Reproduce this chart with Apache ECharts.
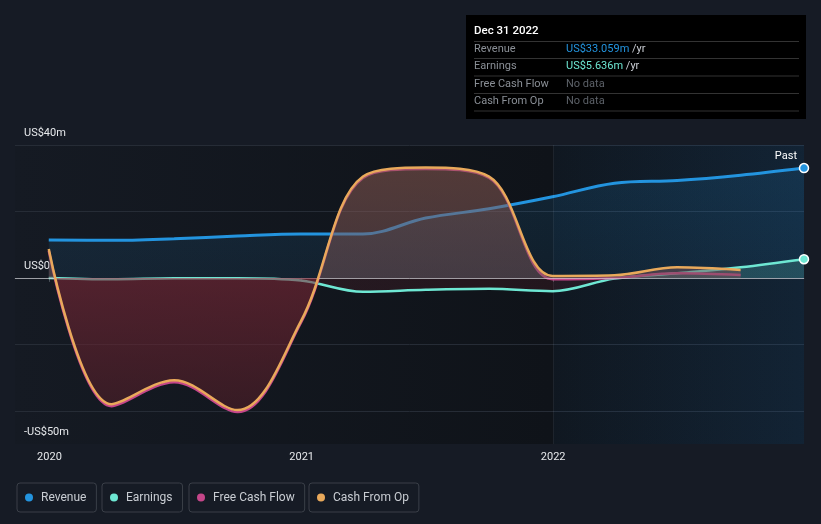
<!DOCTYPE html>
<html>
<head>
<meta charset="utf-8">
<style>
html,body{margin:0;padding:0;background:#161b25;}
#chart{width:821px;height:524px;}
</style>
<script src="https://cdn.jsdelivr.net/npm/echarts@6/dist/echarts.min.js"></script>
</head>
<body>
<div id="chart"></div>
<script>
// ---- data (US$ millions, trailing twelve months) ----
const dates = ['2019-12-31','2020-03-31','2020-06-30','2020-09-30','2020-12-31','2021-03-31','2021-06-30','2021-09-30','2021-12-31','2022-03-31','2022-06-30','2022-09-30','2022-12-31'];
const revenue  = [11.4, 11.3, 11.8, 12.6, 13.2, 13.2, 18.0, 20.8, 24.4, 28.5, 29.3, 30.9, 33.059];
const earnings = [0.0, -0.4, -0.1, -0.1, -0.8, -4.2, -3.6, -3.3, -4.0, -0.2, 1.4, 3.2, 5.636];
const freeCashFlow = [8.2, -38.6, -31.4, -40.4, -13.5, 30.1, 32.8, 30.1, -0.4, 0.0, 1.4, 0.9];
const cashFromOp   = [8.7, -38.0, -30.8, -39.8, -13.0, 30.5, 33.2, 30.5, 0.6, 0.8, 3.2, 2.4];
const yTickLabels = {40: 'US$40m', 0: 'US$0', '-50': '-US$50m'};
const tooltipTitle = 'Dec 31 2022';

const C = {rev:'#2394df', earn:'#6ee7d3', fcf:'#c5468a', cfo:'#e9a95b'};
const FONT = 'Roboto';
const SMOOTH = 0.35;

function pairs(vals){ return vals.map((v,i)=>[dates[i], v]); }
const lastIdx = dates.length - 1;

const GT = 145, GB = 444; // grid top/bottom pixels
const zeroOff = 40/90;

const chart = echarts.init(document.getElementById('chart'), null, {renderer:'canvas'});

function legend(name, left){
  return {
    data:[name], left:left, top:483, orient:'horizontal',
    icon:'circle', itemWidth:14, itemHeight:8,
    itemStyle:{borderWidth:0},
    padding:[8,10,8,8],
    borderColor:'#3a3f48', borderWidth:1, borderRadius:3,
    textStyle:{color:'#c9cdd3', fontSize:12, fontFamily:FONT, lineHeight:13},
    selectedMode:false
  };
}

const txt = (x, y, text, fill, extra) => Object.assign({
  type:'text', x:x, y:y, z:101,
  style:{text:text, fill:fill, font:'11px '+FONT, textVerticalAlign:'middle', textAlign:'left'}
}, extra || {});

const sepYs = [41.5, 58.5, 76, 93.5, 111];
const rich = (col) => ({v:{fill:col, font:'11px '+FONT}, u:{fill:'#c9cdd3', font:'11px '+FONT}});

const graphics = [
  {type:'rect', x:466, y:15, z:100, shape:{width:340, height:104}, style:{fill:'#000000'}},
  {type:'text', x:474, y:31, z:101, style:{text:tooltipTitle, fill:'#ffffff', font:'500 11.5px '+FONT, textVerticalAlign:'middle'}},
  ...sepYs.map(y=>({type:'line', z:101, shape:{x1:474, y1:y, x2:799, y2:y}, style:{stroke:'#333333', lineWidth:1}})),
  txt(474, 49.5, 'Revenue', '#8a8f96'),
  {type:'text', x:566, y:49.5, z:101, style:{text:'{v|US$' + revenue[lastIdx].toFixed(3) + 'm} {u|/yr}', rich:rich(C.rev), font:'11px '+FONT, textVerticalAlign:'middle'}},
  txt(474, 66.5, 'Earnings', '#8a8f96'),
  {type:'text', x:566, y:66.5, z:101, style:{text:'{v|US$' + earnings[lastIdx].toFixed(3) + 'm} {u|/yr}', rich:rich(C.earn), font:'11px '+FONT, textVerticalAlign:'middle'}},
  txt(474, 84.5, 'Free Cash Flow', '#8a8f96'),
  txt(566, 84.5, 'No data', '#5c6168'),
  txt(474, 101.5, 'Cash From Op', '#8a8f96'),
  txt(566, 101.5, 'No data', '#5c6168'),
  {type:'text', x:797, y:156, z:50, style:{text:'Past', fill:'#ffffff', font:'11px '+FONT, textAlign:'right', textVerticalAlign:'middle'}}
];

const option = {
  backgroundColor:'#161b25',
  animation:false,
  textStyle:{fontFamily:FONT},
  grid:{left:15, right:17, top:GT, bottom:524-GB, show:true, borderWidth:0,
    backgroundColor:{type:'linear', x:0, y:0, x2:1, y2:0, colorStops:[
      {offset:0, color:'#151a23'}, {offset:0.68, color:'#0f1319'}, {offset:1, color:'#10151c'}]}},
  legend:[legend('Revenue',17), legend('Earnings',102), legend('Free Cash Flow',189), legend('Cash From Op',309)],
  xAxis:{
    type:'time', min:'2019-11-12', max:'2022-12-31',
    minInterval:365*24*3600*1000,
    axisLine:{show:true, lineStyle:{color:'#3a3f48', width:1}},
    axisTick:{show:true, length:4, lineStyle:{color:'#4a4f58'}},
    splitLine:{show:false},
    axisLabel:{color:'#e6e8eb', fontSize:11, fontFamily:FONT, margin:8, formatter:'{yyyy}'}
  },
  yAxis:{
    type:'value', min:-50, max:40, interval:10,
    axisLine:{show:false}, axisTick:{show:false},
    splitLine:{show:true, lineStyle:{color:['transparent','#262c36'], width:1}},
    axisLabel:{inside:true, margin:9, verticalAlign:'bottom', padding:[0,0,6,0],
      color:'#e6e8eb', fontSize:11, fontFamily:FONT,
      formatter:(v)=> yTickLabels[v] !== undefined ? yTickLabels[v] : ''}
  },
  series:[
    {
      name:'Revenue', type:'line', data:pairs(revenue), smooth:SMOOTH,
      showSymbol:true, showAllSymbol:true,
      symbol:(v,p)=> p.dataIndex===lastIdx ? 'circle' : 'none', symbolSize:9,
      itemStyle:{color:C.rev, borderColor:'#ffffff', borderWidth:1.5},
      lineStyle:{color:C.rev, width:3},
      areaStyle:{color:{type:'linear', x:0, y:0, x2:0, y2:1, colorStops:[
        {offset:0, color:'rgba(35,148,223,0.2)'}, {offset:1, color:'rgba(35,148,223,0.13)'}]}},
      z:2,
      markArea:{silent:true, data:[[{xAxis:'2022-01-01'},{xAxis:'2022-12-31'}]],
        itemStyle:{color:{type:'linear', x:0, y:0, x2:1, y2:0, colorStops:[
          {offset:0, color:'rgba(30,110,180,0.05)'}, {offset:1, color:'rgba(30,110,180,0.16)'}]}},
        label:{show:false}},
      markLine:{silent:true, symbol:'none', label:{show:false},
        lineStyle:{color:'rgba(255,255,255,0.06)', width:1, type:'solid'},
        data:[{xAxis:'2022-01-01'}]}
    },
    {
      name:'Earnings', type:'line', data:pairs(earnings), smooth:SMOOTH,
      showSymbol:true, showAllSymbol:true,
      symbol:(v,p)=> p.dataIndex===lastIdx ? 'circle' : 'none', symbolSize:9,
      itemStyle:{color:C.earn, borderColor:'#ffffff', borderWidth:1.5},
      lineStyle:{color:C.earn, width:2.5},
      areaStyle:{color:{type:'linear', global:true, x:0, y:GT, x2:0, y2:GB, colorStops:[
        {offset:0, color:'rgba(110,231,211,0.25)'}, {offset:zeroOff, color:'rgba(110,231,211,0.25)'},
        {offset:zeroOff+0.0005, color:'rgba(110,35,45,0.3)'}, {offset:1, color:'rgba(110,35,45,0.3)'}]}},
      z:3
    },
    {
      name:'Free Cash Flow', type:'line', data:pairs(freeCashFlow), smooth:SMOOTH,
      showSymbol:false, itemStyle:{color:C.fcf},
      lineStyle:{color:C.fcf, width:2.5}, z:4
    },
    {
      name:'Cash From Op', type:'line', data:pairs(cashFromOp), smooth:SMOOTH,
      showSymbol:false, itemStyle:{color:C.cfo},
      lineStyle:{color:C.cfo, width:2.5},
      areaStyle:{color:{type:'linear', global:true, x:0, y:GT, x2:0, y2:GB, colorStops:[
        {offset:0, color:'rgba(150,95,82,0.75)'}, {offset:zeroOff, color:'rgba(116,84,88,0.72)'},
        {offset:zeroOff+0.0005, color:'rgba(130,40,55,0.8)'}, {offset:1, color:'rgba(72,28,36,0.78)'}]}},
      z:5,
      markLine:{silent:true, symbol:'none', label:{show:false},
        lineStyle:{color:'rgba(210,210,215,0.65)', width:1, type:'solid'},
        data:[{yAxis:0}]}
    }
  ],
  graphic:graphics
};
chart.setOption(option);
</script>
</body>
</html>
